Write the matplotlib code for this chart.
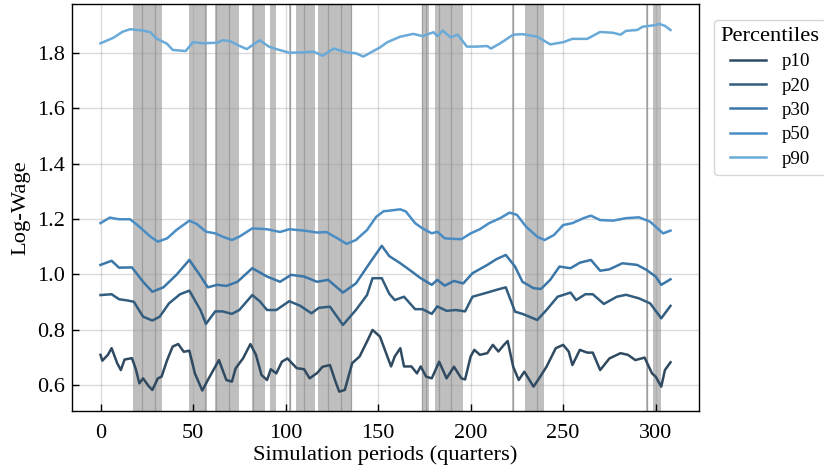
import matplotlib
matplotlib.use("Agg")
import matplotlib.pyplot as plt

plt.rcParams['font.family'] = ['Liberation Serif', 'DejaVu Serif']
plt.rcParams['mathtext.fontset'] = 'stix'

# sampled periods / log-wage readings per percentile
t_p90 = [0, 7, 12, 16, 23, 27, 30, 36, 39, 46, 50, 55, 63, 66, 70, 74, 79, 86, 91, 95,
         102, 109, 115, 120, 126, 133, 138, 142, 151, 155, 162, 169, 174, 180, 182, 185,
         189, 193, 198, 203, 209, 211, 216, 223, 228, 236, 243, 250, 255, 263, 270, 277,
         281, 284, 290, 293, 300, 302, 305, 308]
p90 = [1.835, 1.855, 1.877, 1.886, 1.881, 1.875, 1.853, 1.833, 1.811, 1.807, 1.839, 1.835,
       1.837, 1.846, 1.843, 1.829, 1.814, 1.846, 1.823, 1.814, 1.801, 1.802, 1.805, 1.790,
       1.816, 1.802, 1.799, 1.787, 1.820, 1.839, 1.859, 1.869, 1.861, 1.875, 1.861, 1.881,
       1.857, 1.866, 1.823, 1.823, 1.825, 1.816, 1.835, 1.866, 1.868, 1.859, 1.831, 1.839,
       1.851, 1.851, 1.876, 1.873, 1.866, 1.880, 1.883, 1.895, 1.901, 1.905, 1.898, 1.883]

t_p50 = [0, 5, 10, 16, 21, 27, 31, 36, 41, 48, 52, 57, 62, 66, 71, 75, 82, 90, 97, 102,
         110, 117, 122, 128, 133, 138, 144, 149, 153, 156, 162, 165, 170, 174, 179, 182,
         186, 191, 195, 200, 205, 210, 216, 221, 225, 230, 236, 240, 245, 250, 255, 261,
         265, 270, 277, 284, 291, 297, 300, 304, 308]
p50 = [1.185, 1.205, 1.199, 1.199, 1.172, 1.136, 1.118, 1.130, 1.160, 1.194, 1.182, 1.154,
       1.148, 1.136, 1.124, 1.136, 1.166, 1.163, 1.153, 1.163, 1.158, 1.151, 1.153, 1.130,
       1.110, 1.124, 1.160, 1.208, 1.228, 1.230, 1.235, 1.227, 1.185, 1.166, 1.148, 1.154,
       1.130, 1.128, 1.127, 1.148, 1.163, 1.185, 1.203, 1.223, 1.215, 1.172, 1.136, 1.124,
       1.142, 1.178, 1.185, 1.203, 1.212, 1.196, 1.194, 1.203, 1.206, 1.190, 1.172, 1.148,
       1.158]

t_p30 = [0, 6, 10, 17, 23, 28, 34, 41, 48, 53, 58, 63, 68, 74, 82, 90, 97, 103, 110, 117,
         123, 131, 138, 146, 152, 156, 162, 167, 173, 179, 182, 186, 191, 196, 201, 209, 214,
         219, 224, 228, 234, 238, 243, 248, 254, 259, 265, 270, 275, 282, 290, 295, 300, 303,
         308]
p30 = [1.034, 1.049, 1.024, 1.025, 0.973, 0.937, 0.953, 0.998, 1.052, 1.004, 0.953, 0.962,
       0.958, 0.973, 1.022, 0.992, 0.973, 0.998, 0.992, 0.973, 0.980, 0.934, 0.967, 1.046,
       1.103, 1.066, 1.040, 1.016, 0.986, 0.962, 0.980, 0.959, 0.976, 0.967, 1.004, 1.034,
       1.055, 1.070, 1.028, 0.973, 0.950, 0.947, 0.980, 1.028, 1.022, 1.042, 1.052, 1.013,
       1.018, 1.040, 1.034, 1.016, 0.992, 0.962, 0.982]

t_p20 = [0, 6, 10, 15, 18, 23, 28, 32, 37, 43, 48, 54, 57, 62, 66, 71, 75, 82, 86, 90, 95,
         102, 108, 114, 118, 124, 131, 138, 144, 147, 152, 156, 159, 164, 170, 174, 179, 182,
         187, 192, 197, 201, 209, 214, 219, 224, 228, 236, 241, 247, 254, 257, 262, 266, 272,
         279, 284, 291, 297, 303, 308]
p20 = [0.925, 0.928, 0.910, 0.905, 0.901, 0.847, 0.833, 0.847, 0.895, 0.928, 0.941, 0.871,
       0.821, 0.866, 0.866, 0.857, 0.871, 0.925, 0.903, 0.871, 0.871, 0.903, 0.886, 0.859,
       0.879, 0.883, 0.817, 0.871, 0.925, 0.986, 0.986, 0.930, 0.907, 0.919, 0.874, 0.874,
       0.857, 0.884, 0.868, 0.871, 0.866, 0.919, 0.934, 0.944, 0.953, 0.865, 0.857, 0.835,
       0.871, 0.919, 0.934, 0.907, 0.928, 0.928, 0.893, 0.919, 0.926, 0.913, 0.895, 0.841,
       0.886]

t_p10 = [0, 1, 4, 6, 9, 11, 13, 17, 19, 21, 23, 26, 28, 31, 33, 36, 39, 42, 45, 48, 51, 55,
         58, 61, 64, 65, 68, 71, 73, 77, 81, 84, 87, 90, 92, 95, 98, 101, 106, 110, 113, 117,
         120, 124, 127, 129, 132, 136, 140, 144, 147, 151, 155, 157, 159, 162, 164, 168, 171,
         173, 176, 179, 183, 187, 191, 195, 197, 200, 202, 205, 209, 212, 215, 218, 220, 223,
         226, 229, 234, 237, 241, 246, 250, 253, 255, 259, 263, 266, 270, 275, 281, 285, 289,
         294, 298, 300, 303, 305, 308]
p10 = [0.709, 0.688, 0.709, 0.733, 0.679, 0.654, 0.692, 0.697, 0.659, 0.606, 0.624, 0.596,
       0.582, 0.624, 0.630, 0.690, 0.739, 0.748, 0.720, 0.724, 0.642, 0.580, 0.618, 0.654,
       0.690, 0.672, 0.618, 0.612, 0.660, 0.696, 0.748, 0.709, 0.636, 0.618, 0.657, 0.642,
       0.684, 0.696, 0.661, 0.657, 0.624, 0.643, 0.666, 0.672, 0.612, 0.576, 0.582, 0.679,
       0.703, 0.757, 0.799, 0.775, 0.703, 0.667, 0.703, 0.733, 0.667, 0.667, 0.642, 0.667,
       0.630, 0.624, 0.684, 0.624, 0.666, 0.624, 0.620, 0.703, 0.727, 0.709, 0.715, 0.745,
       0.721, 0.745, 0.759, 0.666, 0.618, 0.648, 0.594, 0.624, 0.666, 0.733, 0.745, 0.721,
       0.672, 0.727, 0.717, 0.717, 0.654, 0.696, 0.715, 0.709, 0.690, 0.699, 0.642, 0.630,
       0.594, 0.654, 0.682]

labels = ['p10', 'p20', 'p30', 'p50', 'p90']
colors = ['#2f4a61', '#335d7e', '#3a76a7', '#4a8dc5', '#6aaad8']

# shaded periods (start, end) and their boundary marks
shade_start = [17.5, 47.8, 61.8, 81.9, 91.5, 102.0, 105.6, 117.5, 173.7, 180.7, 222.5, 229.4, 295.0, 298.5]
shade_end = [33.5, 57.3, 74.6, 88.8, 94.8, 103.0, 115.8, 136.0, 177.5, 195.7, 223.3, 239.5, 295.6, 302.7]
shade_marks = [22.5, 29.7, 56.5, 62.3, 69.7, 82.3, 102.2, 109.7, 122.7, 129.7, 135.6,
               173.9, 175.7, 182.7, 189.5, 222.9, 235.7, 295.3]

fig = plt.figure(figsize=(8.24, 4.68), dpi=100)
ax = fig.add_axes([72 / 824, 57 / 468, 627 / 824, 407 / 468])

for s, e in zip(shade_start, shade_end):
    ax.axvspan(s, e, facecolor='#bfbfbf', edgecolor='none', zorder=0.2)
for m in shade_marks:
    ax.axvline(m, color='#9e9e9e', lw=0.9, zorder=0.3)

series = [(t_p10, p10), (t_p20, p20), (t_p30, p30), (t_p50, p50), (t_p90, p90)]
for (t, v), lab, c in zip(series, labels, colors):
    ax.plot(t, v, color=c, lw=1.8, label=lab, zorder=2)

ax.set_xlim(-15.4, 323.4)
ax.set_ylim(0.506, 1.977)
ax.set_xticks([0, 50, 100, 150, 200, 250, 300])
ax.set_yticks([0.6, 0.8, 1.0, 1.2, 1.4, 1.6, 1.8])
ax.set_yticklabels(['0.6', '0.8', '1.0', '1.2', '1.4', '1.6', '1.8'])
ax.set_axisbelow(True)
ax.grid(True, color='#999999', alpha=0.35, lw=1.0, zorder=0.5)
ax.tick_params(direction='in', length=5, width=1, labelsize=16)
ax.tick_params(axis='x', pad=9)
ax.tick_params(axis='y', pad=5)
for sp in ax.spines.values():
    sp.set_linewidth(1.0)

ax.set_xlabel('Simulation periods (quarters)', fontsize=16.2, labelpad=2)
ax.set_ylabel('Log-Wage', fontsize=16.2, labelpad=5)

leg = ax.legend(title='Percentiles', loc='upper left', bbox_to_anchor=(1.024, 0.96),
                borderaxespad=0, fontsize=13.6, title_fontsize=16.2, frameon=True,
                handlelength=1.9, borderpad=0.35, labelspacing=0.38, handletextpad=0.8)
leg.get_frame().set_edgecolor('#cccccc')

fig.savefig('out.png', dpi=100)
